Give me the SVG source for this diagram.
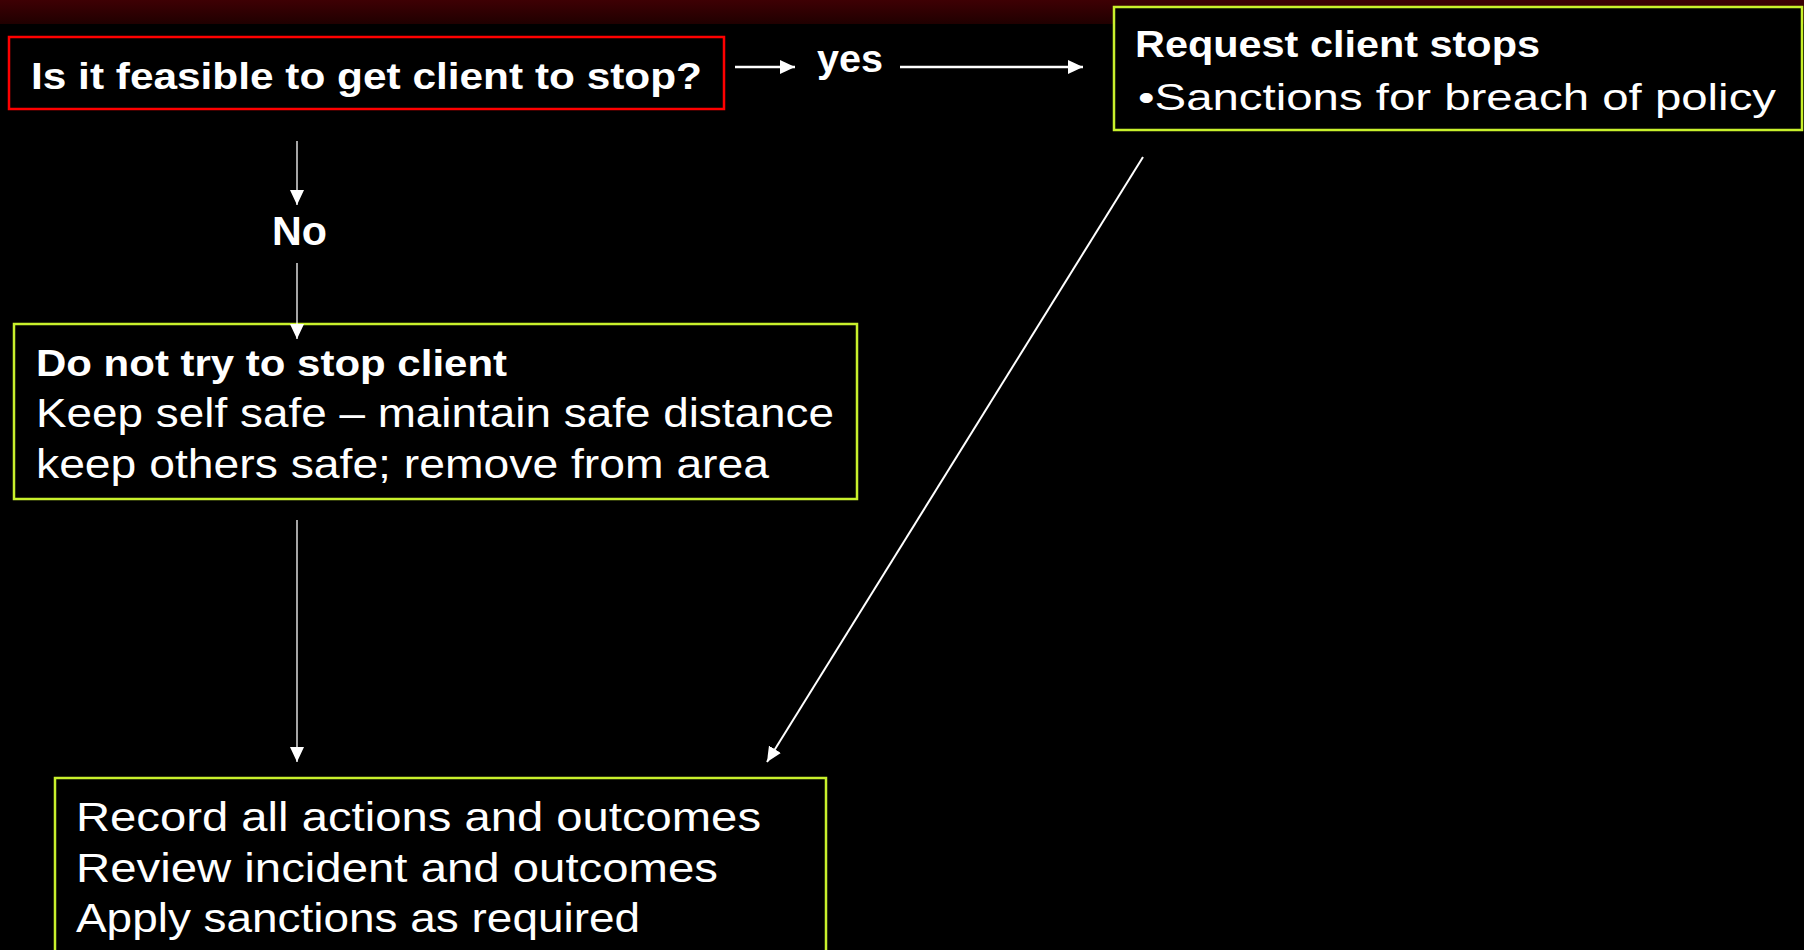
<svg xmlns="http://www.w3.org/2000/svg" width="1804" height="950" viewBox="0 0 1804 950">
  <defs>
    <linearGradient id="band" x1="0" y1="0" x2="0" y2="1">
      <stop offset="0" stop-color="#3e0004"/>
      <stop offset="1" stop-color="#200000"/>
    </linearGradient>
    <marker id="ah" viewBox="0 0 15 14" refX="15" refY="7" markerWidth="15" markerHeight="14" markerUnits="userSpaceOnUse" orient="auto">
      <path d="M0,0 L15,7 L0,14 Z" fill="#ffffff"/>
    </marker>
    <style>
      .box { fill: #000000; stroke: #c8f02c; stroke-width: 2.5; }
      .red { fill: #000000; stroke: #ff0000; stroke-width: 2.5; }
      .b { font-family: "Liberation Sans", Arial, sans-serif; font-weight: bold; fill: #ffffff; }
      .r { font-family: "Liberation Sans", Arial, sans-serif; fill: #ffffff; }
      .c { stroke: #ffffff; fill: none; marker-end: url(#ah); }
    </style>
  </defs>
  <rect x="0" y="0" width="1804" height="950" fill="#000000"/>
  <rect x="0" y="0" width="1804" height="24" fill="url(#band)"/>

  <g id="question">
    <rect class="red" x="9" y="37" width="715" height="72"/>
    <text class="b" x="31" y="89" font-size="37" textLength="671" lengthAdjust="spacingAndGlyphs">Is it feasible to get client to stop?</text>
  </g>

  <g id="label-yes">
    <text class="b" x="817" y="72" font-size="38" textLength="66" lengthAdjust="spacingAndGlyphs">yes</text>
  </g>

  <g id="label-no">
    <text class="b" x="272" y="245" font-size="40" textLength="55" lengthAdjust="spacingAndGlyphs">No</text>
  </g>

  <g id="request">
    <rect class="box" x="1114" y="7" width="688" height="123"/>
    <text class="b" x="1135" y="57" font-size="36" textLength="405" lengthAdjust="spacingAndGlyphs">Request client stops</text>
    <text class="r" x="1138" y="110" font-size="37" textLength="638" lengthAdjust="spacingAndGlyphs">•Sanctions for breach of policy</text>
  </g>

  <g id="donot">
    <rect class="box" x="14" y="324" width="843" height="175"/>
    <text class="b" x="36" y="376" font-size="36" textLength="471" lengthAdjust="spacingAndGlyphs">Do not try to stop client</text>
    <text class="r" x="36" y="427" font-size="41" textLength="798" lengthAdjust="spacingAndGlyphs">Keep self safe – maintain safe distance</text>
    <text class="r" x="36" y="478" font-size="41" textLength="733" lengthAdjust="spacingAndGlyphs">keep others safe; remove from area</text>
  </g>

  <g id="record">
    <rect class="box" x="55" y="778" width="771" height="185"/>
    <text class="r" x="76" y="831" font-size="41" textLength="685" lengthAdjust="spacingAndGlyphs">Record all actions and outcomes</text>
    <text class="r" x="76" y="882" font-size="41" textLength="642" lengthAdjust="spacingAndGlyphs">Review incident and outcomes</text>
    <text class="r" x="76" y="932" font-size="41" textLength="564" lengthAdjust="spacingAndGlyphs">Apply sanctions as required</text>
  </g>

  <g id="connectors">
    <line class="c" x1="735" y1="67" x2="795" y2="67" stroke-width="2.5"/>
    <line class="c" x1="900" y1="67" x2="1083" y2="67" stroke-width="2.5"/>
    <line class="c" x1="297" y1="141" x2="297" y2="205" stroke-width="1.3"/>
    <line class="c" x1="297" y1="263" x2="297" y2="339" stroke-width="1.3"/>
    <line class="c" x1="297" y1="520" x2="297" y2="762" stroke-width="1.3"/>
    <line class="c" x1="1143" y1="157" x2="767" y2="762" stroke-width="2"/>
  </g>
</svg>
